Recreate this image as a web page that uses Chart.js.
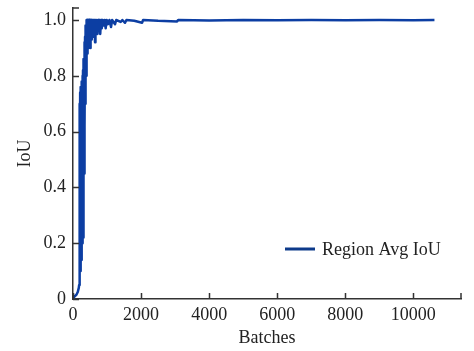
<!DOCTYPE html>
<html>
<head>
<meta charset="utf-8">
<script src="https://cdn.jsdelivr.net/npm/chart.js@4.4.0/dist/chart.umd.min.js"></script>
<style>
  html, body { margin: 0; padding: 0; background: #fff; }
  #wrap { width: 474px; height: 351px; position: relative; }
</style>
</head>
<body>
<div id="wrap"><canvas id="c"></canvas></div>
<script>
// data (noisy band during the rise is kept as raw samples)
const seriesLabel = "Region Avg IoU";
const batches = [
  0, 50, 100, 140, 170, 180, 186, 192, 198, 204,
  210, 216, 222, 228, 234, 240, 246, 252, 258, 264,
  270, 276, 282, 288, 294, 300, 306, 312, 318, 324,
  330, 336, 342, 348, 354, 360, 366, 372, 378, 384,
  390, 396, 402, 408, 414, 420, 428, 436, 444, 452,
  460, 470, 480, 490, 500, 508, 516, 526, 536, 546,
  556, 566, 576, 590, 604, 618, 632, 647, 660, 680,
  700, 720, 740, 760, 780, 800, 823, 845, 870, 900,
  930, 960, 990, 1030, 1070, 1117, 1150, 1235, 1270, 1400,
  1450, 1529, 1570, 1800, 2029, 2060, 2500, 3058, 3090, 4000,
  5000, 6000, 7000, 8000, 9000, 10000, 10620];
const iou = [
  0, 0.01, 0.015, 0.025, 0.04, 0.05, 0.5, 0.08, 0.7, 0.1,
  0.74, 0.12, 0.6, 0.1, 0.76, 0.15, 0.72, 0.14, 0.78, 0.18,
  0.7, 0.2, 0.8, 0.25, 0.82, 0.22, 0.84, 0.35, 0.86, 0.45,
  0.9, 0.55, 0.92, 0.62, 0.94, 0.7, 0.96, 0.75, 0.98, 0.8,
  1.0, 0.85, 1.0, 0.87, 1.0, 0.88, 1.0, 0.9, 1.0, 0.92,
  1.0, 0.9, 1.0, 0.93, 1.0, 0.9, 1.0, 0.95, 1.0, 0.93,
  1.0, 0.96, 1.0, 0.94, 1.0, 0.97, 1.0, 0.92, 1.0, 0.96,
  1.0, 0.95, 1.0, 0.97, 1.0, 0.95, 1.0, 0.97, 1.0, 0.98,
  1.0, 0.97, 1.0, 0.985, 1.0, 0.975, 1.0, 0.985, 1.0, 0.993,
  1.0, 0.99, 1.0, 0.997, 0.99, 1.0, 0.997, 0.995, 1.0, 0.998,
  1.0, 0.999, 1.0, 0.999, 1.0, 0.999, 1.0];
const xTicks = [0, 2000, 4000, 6000, 8000, 10000];
const yTicks = [0, 0.2, 0.4, 0.6, 0.8, 1.0];

const lineColor = "#0c3ea3";
const inkColor = "#222";
const fontFamily = "'Liberation Serif', 'DejaVu Serif', serif";

// inward ticks + end ticks, and the legend in the lower right
const axisExtras = {
  id: "axisExtras",
  afterDraw(chart) {
    const ctx = chart.ctx;
    const { left, right, top, bottom } = chart.chartArea;
    const xs = chart.scales.x, ys = chart.scales.y;
    ctx.save();
    ctx.strokeStyle = "#333";
    ctx.lineWidth = 1.5;
    ctx.beginPath();
    xTicks.forEach(v => {
      const px = Math.round(xs.getPixelForValue(v)) + 0.5;
      ctx.moveTo(px, bottom); ctx.lineTo(px, bottom - 6);
    });
    ctx.moveTo(right, bottom); ctx.lineTo(right, bottom - 6);
    yTicks.forEach(v => {
      const py = Math.round(ys.getPixelForValue(v)) + 0.5;
      ctx.moveTo(left, py); ctx.lineTo(left + 6, py);
    });
    ctx.moveTo(left, top); ctx.lineTo(left + 6, top);
    ctx.stroke();

    // legend
    const ly = bottom - 50;
    const lx = right - 176;
    ctx.strokeStyle = "#0d3a8a";
    ctx.lineWidth = 3;
    ctx.beginPath();
    ctx.moveTo(lx, ly); ctx.lineTo(lx + 30, ly);
    ctx.stroke();
    ctx.fillStyle = inkColor;
    ctx.font = "18px " + fontFamily;
    ctx.textBaseline = "middle";
    ctx.textAlign = "left";
    ctx.fillText(seriesLabel, lx + 37, ly + 1);
    ctx.restore();
  }
};

new Chart(document.getElementById("c"), {
  type: "line",
  data: {
    datasets: [{
      label: seriesLabel,
      data: batches.map((b, i) => ({ x: b, y: iou[i] })),
      borderColor: lineColor,
      borderWidth: 2.5,
      borderJoinStyle: "round",
      pointRadius: 0,
      tension: 0,
      fill: false,
    }],
  },
  options: {
    responsive: true,
    maintainAspectRatio: false,
    animation: false,
    layout: { padding: { left: 0, right: 13, top: 8, bottom: 0 } },
    plugins: { legend: { display: false }, tooltip: { enabled: false } },
    scales: {
      x: {
        type: "linear",
        min: 0,
        max: 11400,
        afterBuildTicks: s => { s.ticks = xTicks.map(v => ({ value: v })); },
        afterFit: s => { s.height = 52; s.paddingLeft = 0; s.paddingRight = 0; },
        grid: { display: true, drawOnChartArea: false, drawTicks: false },
        border: { display: true, color: "#333", width: 1.5 },
        ticks: {
          padding: 5,
          maxRotation: 0,
          color: inkColor,
          font: { family: fontFamily, size: 18 },
          callback: v => String(v),
        },
        title: {
          display: true,
          text: "Batches",
          color: inkColor,
          padding: { top: 0, bottom: 2 },
          font: { family: fontFamily, size: 18 },
        },
      },
      y: {
        min: 0,
        max: 1.043,
        afterBuildTicks: s => { s.ticks = yTicks.map(v => ({ value: v })); },
        afterFit: s => { s.width = 73; s.paddingTop = 0; s.paddingBottom = 0; },
        grid: { display: true, drawOnChartArea: false, drawTicks: false },
        border: { display: true, color: "#333", width: 1.5 },
        ticks: {
          padding: 7,
          color: inkColor,
          font: { family: fontFamily, size: 18 },
          callback: v => (v === 0 ? "0" : v.toFixed(1)),
        },
        title: {
          display: true,
          text: "IoU",
          color: inkColor,
          padding: { top: 14, bottom: 0 },
          font: { family: fontFamily, size: 18 },
        },
      },
    },
  },
  plugins: [axisExtras],
});
</script>
</body>
</html>
